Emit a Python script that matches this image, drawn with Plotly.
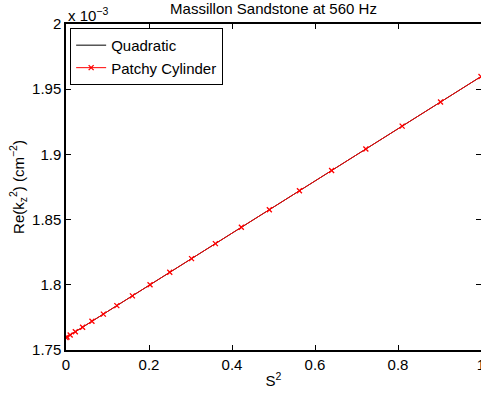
import plotly.graph_objects as go

# S^2 values (S = 0, 0.05, ..., 1)
s2 = [0, 0.0025, 0.01, 0.0225, 0.04, 0.0625, 0.09, 0.1225, 0.16, 0.2025, 0.25,
      0.3025, 0.36, 0.4225, 0.49, 0.5625, 0.64, 0.7225, 0.81, 0.9025, 1.0]
# Re(kz^2) in units of 1e-3 cm^-2
quadratic = [1.7595, 1.7600, 1.7615, 1.7640, 1.7675, 1.7720, 1.7775, 1.7840, 1.7915,
             1.8000, 1.8096, 1.8201, 1.8316, 1.8441, 1.8576, 1.8721, 1.8876, 1.9041,
             1.9217, 1.9402, 1.9597]
patchy = [1.7595, 1.7600, 1.7615, 1.7640, 1.7675, 1.7720, 1.7775, 1.7840, 1.7915,
          1.8000, 1.8096, 1.8201, 1.8316, 1.8441, 1.8576, 1.8721, 1.8876, 1.9041,
          1.9217, 1.9402, 1.9597]
xticks = [0, 0.2, 0.4, 0.6, 0.8, 1]
xticklabels = ["0", "0.2", "0.4", "0.6", "0.8", "1"]
yticks = [1.75, 1.8, 1.85, 1.9, 1.95, 2]
yticklabels = ["1.75", "1.8", "1.85", "1.9", "1.95", "2"]

FONT = "Liberation Sans, Arial, sans-serif"
FS = 15

fig = go.Figure()
fig.add_trace(go.Scatter(x=s2, y=quadratic, mode="lines", name="Quadratic",
                         line=dict(color="black", width=1)))
fig.add_trace(go.Scatter(x=s2, y=patchy, mode="lines+markers", name="Patchy Cylinder",
                         line=dict(color="red", width=1),
                         marker=dict(symbol="x-thin", size=5,
                                     line=dict(color="red", width=1.3), color="red")))

axis_common = dict(showline=True, linecolor="black", linewidth=1.5, mirror="allticks",
                   ticks="inside", ticklen=5, tickwidth=1, tickcolor="black",
                   showgrid=False, zeroline=False, automargin=False,
                   ticklabeloverflow="allow",
                   tickfont=dict(family=FONT, size=FS, color="black"))

fig.update_layout(
    width=481, height=396,
    margin=dict(l=66, r=0, t=24, b=46, pad=0),
    paper_bgcolor="white", plot_bgcolor="white",
    font=dict(family=FONT, size=FS, color="black"),
    title=dict(text="Massillon Sandstone at 560 Hz", x=0.5, xanchor="center", xref="paper",
               y=0.978, yref="container", yanchor="middle",
               font=dict(family=FONT, size=FS, color="black")),
    xaxis=dict(range=[0, 1], tickvals=xticks, ticktext=xticklabels,
               title=dict(text="S<sup>2</sup>", standoff=4,
                          font=dict(family=FONT, size=FS)),
               **axis_common),
    yaxis=dict(range=[1.75, 2.0], tickvals=yticks, ticktext=yticklabels,
               title=dict(text="Re(k<sub>z</sub><sup>2</sup>) (cm<sup>\u22122</sup>)", standoff=4,
                          font=dict(family=FONT, size=FS)),
               **axis_common),
    legend=dict(x=0.01, y=0.988, xanchor="left", yanchor="top",
                bordercolor="black", borderwidth=1, bgcolor="white",
                font=dict(family=FONT, size=FS), tracegroupgap=0,
                itemwidth=30),
    showlegend=True,
)

fig.add_annotation(text="x 10<sup>\u22123</sup>", xref="paper", yref="paper",
                   x=0, y=1, xanchor="left", yanchor="bottom", showarrow=False,
                   font=dict(family=FONT, size=FS, color="black"), yshift=-2)

fig.write_html("out.html", config={"displayModeBar": False},
               post_script="document.body.style.margin='0';document.body.style.overflow='hidden';")
